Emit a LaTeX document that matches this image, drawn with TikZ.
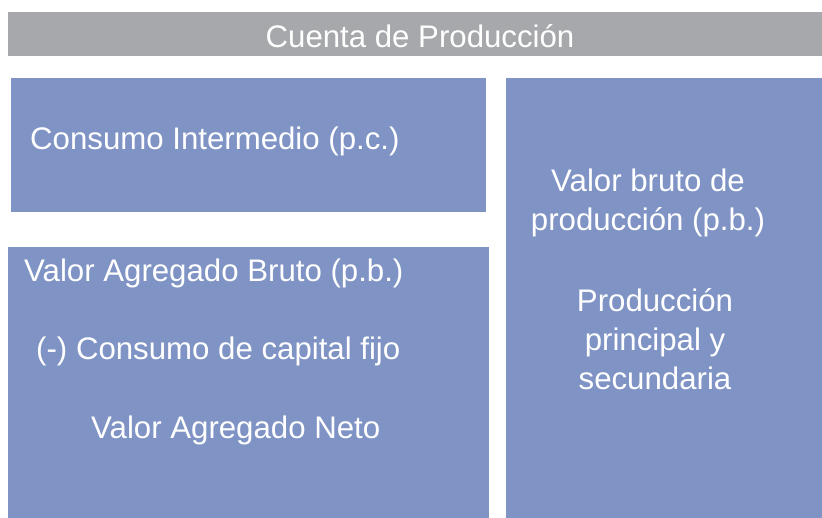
\documentclass[tikz,border=0pt]{standalone}
\usepackage{fontspec}
\setmainfont{Liberation Sans}
\usepackage{tikz}
\definecolor{cbgray}{HTML}{A7A8AB}
\definecolor{cbblue}{HTML}{7F93C5}
\begin{document}
\begin{tikzpicture}[x=1pt,y=-1pt]
\tikzstyle{bar}=[fill=cbgray,inner sep=0pt,anchor=north west]
\tikzstyle{blk}=[fill=cbblue,inner sep=0pt,anchor=north west]
\tikzstyle{txt}=[text=white,font=\fontsize{31.2}{39}\selectfont,align=center,inner sep=0pt]
\useasboundingbox (0,0) rectangle (822,518);
% boxes
\node[bar,minimum width=814pt,minimum height=44pt] (head) at (8,12) {};
\node[blk,minimum width=475pt,minimum height=134pt] (ci) at (11,78) {};
\node[blk,minimum width=316pt,minimum height=440pt] (vbp) at (506,78) {};
\node[blk,minimum width=481pt,minimum height=271pt] (va) at (8,247) {};
% texts
\node[txt] (t0) at (420,36) {Cuenta de Producción};
\node[txt,anchor=west] (t1) at (30,141) {Consumo Intermedio (p.c.)};
\node[txt] (t2) at (648,203) {Valor bruto de\\producción (p.b.)};
\node[txt] (t3) at (655,339) {Producción\\principal y\\secundaria};
\node[txt,anchor=west] (t4) at (24,273) {Valor Agregado Bruto (p.b.)};
\node[txt,anchor=west] (t5) at (36,351) {(-) Consumo de capital fijo};
\node[txt,anchor=west] (t6) at (91,430) {Valor Agregado Neto};
\end{tikzpicture}
\end{document}
